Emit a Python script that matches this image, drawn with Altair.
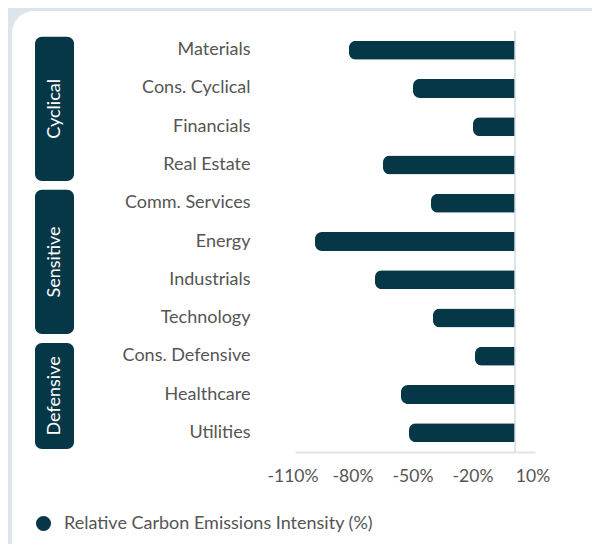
import altair as alt
import pandas as pd

# ---- data ----
sectors = ["Materials", "Cons. Cyclical", "Financials", "Real Estate",
           "Comm. Services", "Energy", "Industrials", "Technology",
           "Cons. Defensive", "Healthcare", "Utilities"]
intensity = [-83, -51, -21, -66, -42, -100, -70, -41, -20, -57, -53]
series_name = "Relative Carbon Emissions Intensity (%)"

groups = ["Cyclical", "Sensitive", "Defensive"]
group_start = [0, 4, 8]
group_end = [4, 8, 11]

x_ticks = [-110, -80, -50, -20, 10]

# ---- style ----
DARK = "#063747"
TEXT = "#555555"
BG = "#dce5eb"
FONT = "Lato"

bars_df = pd.DataFrame({"sector": sectors, "value": intensity,
                        "series": [series_name] * len(sectors)})
groups_df = pd.DataFrame({"group": groups, "start": group_start, "end": group_end})

card = alt.Chart(pd.DataFrame({"k": [0]})).mark_rect(
    color="white", cornerRadius=22
).encode(x=alt.value(-283), x2=alt.value(330), y=alt.value(-20), y2=alt.value(540))

ysc = alt.Scale(domain=[0, 11], reverse=True, nice=False, zero=False)
grp_base = alt.Chart(groups_df).transform_calculate(
    y0="datum.start + 0.15", y1="datum.end - 0.08",
    mid="(datum.start + datum.end + 0.07) / 2")

boxes = grp_base.mark_rect(color=DARK, cornerRadius=7).encode(
    x=alt.value(-260), x2=alt.value(-221),
    y=alt.Y("y0:Q", scale=ysc, axis=None), y2="y1:Q")

box_labels = grp_base.mark_text(
    angle=270, color="white", font=FONT, fontSize=18,
    align="center", baseline="middle"
).encode(x=alt.value(-240.5), y=alt.Y("mid:Q", scale=ysc, axis=None), text="group:N")

bars = alt.Chart(bars_df).mark_bar(
    size=19, cornerRadiusTopLeft=7, cornerRadiusBottomLeft=7
).encode(
    x=alt.X("value:Q", scale=alt.Scale(domain=[-110, 10], nice=False),
            axis=alt.Axis(values=x_ticks, labelExpr="datum.value + '%'", title=None,
                          grid=False, ticks=False, tickSize=0, labelPadding=15,
                          labelOverlap=False, labelFlush=False, labelOffset=-2.5,
                          domainColor="#dfe5ea", domainWidth=2,
                          labelFont=FONT, labelFontSize=17.5, labelColor=TEXT,
                          zindex=1)),
    y=alt.Y("sector:N", sort=sectors,
            scale=alt.Scale(paddingInner=0, paddingOuter=0),
            axis=alt.Axis(title=None, ticks=False, tickSize=0, domain=False,
                          labelPadding=45, labelFont=FONT, labelFontSize=18,
                          labelColor=TEXT, labelLimit=300, zindex=1)),
    color=alt.Color("series:N", scale=alt.Scale(range=[DARK]),
                    legend=alt.Legend(title=None, orient="none", legendX=-260.5,
                                      legendY=483.5, symbolType="circle",
                                      symbolSize=227, symbolStrokeWidth=0,
                                      labelFont=FONT, labelFontSize=18,
                                      labelColor=TEXT, labelOffset=11.5,
                                      labelLimit=600, padding=0)),
)

zero_rule = alt.Chart(pd.DataFrame({"k": [0]})).mark_rule(
    color="#d3dbe3", strokeWidth=1.5
).encode(x=alt.datum(0), y=alt.value(0), y2=alt.value(421))

chart = alt.layer(card, boxes, box_labels, bars, zero_rule).resolve_scale(
    y="independent"
).properties(
    width=240, height=421,
    autosize=alt.AutoSizeParams(type="none"),
    padding={"left": 287, "top": 23, "right": 57, "bottom": 92},
    background=BG,
).configure_view(stroke=None)

chart.save("out.html", embed_options={"renderer": "svg", "actions": False})
